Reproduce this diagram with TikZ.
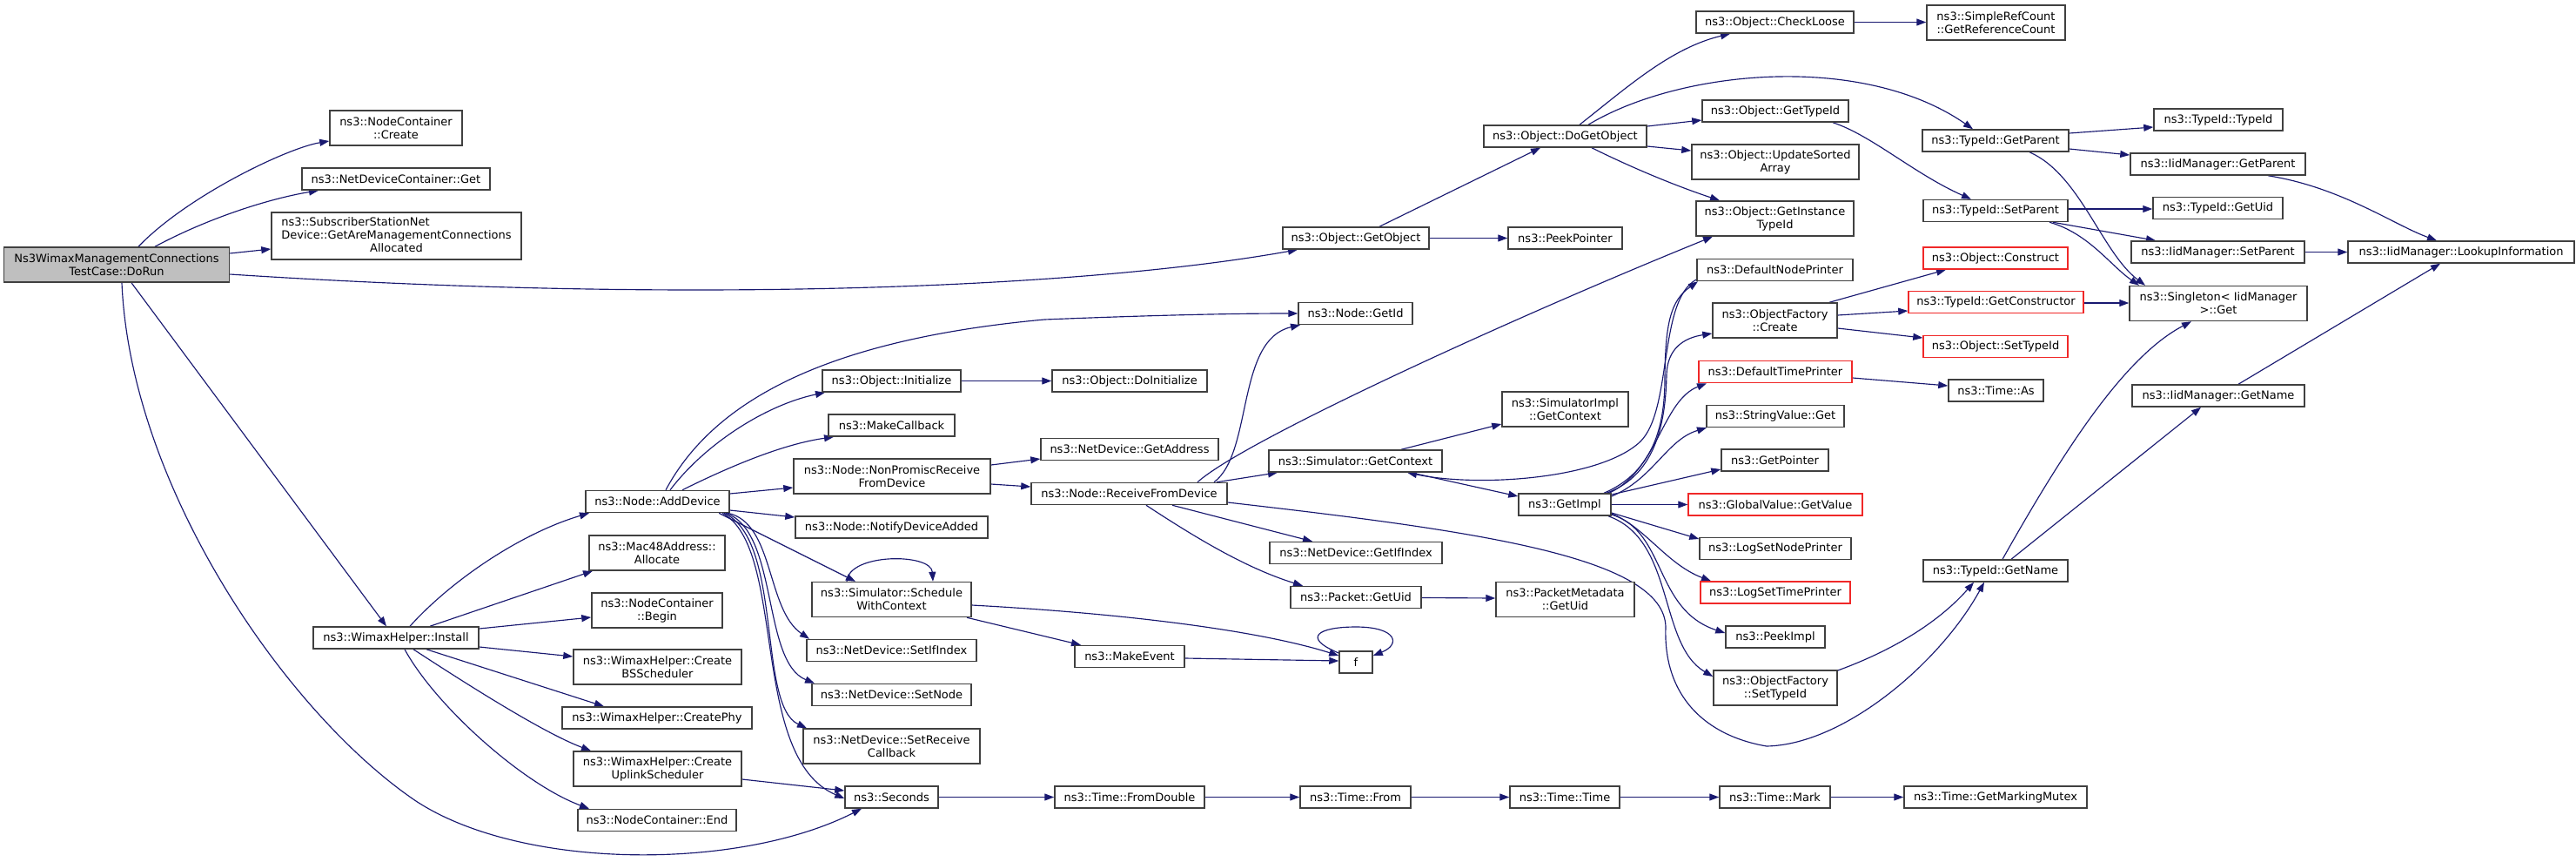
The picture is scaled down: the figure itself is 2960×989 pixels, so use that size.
\documentclass[tikz,border=0pt]{standalone}
\usepackage{fontspec}
\setmainfont{DejaVu Sans}
\usetikzlibrary{arrows.meta,backgrounds}
\definecolor{edgec}{RGB}{25,25,112}
\definecolor{boxc}{RGB}{64,64,64}
\definecolor{redc}{RGB}{240,40,40}
\definecolor{fillc}{RGB}{191,191,191}
\tikzset{
  box/.style={draw=boxc, line width=1.5pt, fill=white, inner sep=0pt, align=center, text=black},
  redbox/.style={box, draw=redc},
  e/.style={draw=edgec, line width=1.15pt, -{Triangle[length=11pt,width=8pt]}},
}
\begin{document}
\begin{tikzpicture}[x=1pt,y=-1pt,font=\fontsize{13}{15}\selectfont]
\useasboundingbox (0,0) rectangle (2960,989);
% column 0
\node[box, fill=fillc, minimum width=259pt, minimum height=40pt] (dorun) at (134,304) {Ns3WimaxManagementConnections\\TestCase::DoRun};
% column 1
\node[box, minimum width=152pt, minimum height=40pt] (ncCreate) at (455,147) {ns3::NodeContainer\\::Create};
\node[box, minimum width=216pt, minimum height=25pt] (ndcGet) at (455,205.5) {ns3::NetDeviceContainer::Get};
\node[box, minimum width=287pt, minimum height=54pt] (ssAlloc) at (455.5,271) {\begin{tabular}{@{}l@{}}ns3::SubscriberStationNet\\Device::GetAreManagementConnections\\\multicolumn{1}{@{}c@{}}{Allocated}\end{tabular}};
\node[box, minimum width=190pt, minimum height=25pt] (install) at (455,732.5) {ns3::WimaxHelper::Install};
% column 2
\node[box, minimum width=165pt, minimum height=25pt] (addDev) at (755.5,576) {ns3::Node::AddDevice};
\node[box, minimum width=156pt, minimum height=40pt] (mac48) at (755,635) {ns3::Mac48Address::\\Allocate};
\node[box, minimum width=150pt, minimum height=40pt] (ncBegin) at (755,701) {ns3::NodeContainer\\::Begin};
\node[box, minimum width=193pt, minimum height=40pt] (createBS) at (755.5,766) {ns3::WimaxHelper::Create\\BSScheduler};
\node[box, minimum width=218pt, minimum height=25pt] (createPhy) at (755,824.5) {ns3::WimaxHelper::CreatePhy};
\node[box, minimum width=193pt, minimum height=40pt] (createUL) at (755.5,883) {ns3::WimaxHelper::Create\\UplinkScheduler};
\node[box, minimum width=182pt, minimum height=25pt] (ncEnd) at (755,942) {ns3::NodeContainer::End};
% column 3
\node[box, minimum width=159pt, minimum height=25pt] (objInit) at (1024.5,437.5) {ns3::Object::Initialize};
\node[box, minimum width=145pt, minimum height=25pt] (makeCb) at (1024.5,488.5) {ns3::MakeCallback};
\node[box, minimum width=226pt, minimum height=40pt] (nonPromisc) at (1025,547) {ns3::Node::NonPromiscReceive\\FromDevice};
\node[box, minimum width=221pt, minimum height=25pt] (notify) at (1024.5,605.5) {ns3::Node::NotifyDeviceAdded};
\node[box, minimum width=183pt, minimum height=40pt] (schedCtx) at (1024.5,688.5) {ns3::Simulator::Schedule\\WithContext};
\node[box, minimum width=195pt, minimum height=25pt] (setIf) at (1024.5,747) {ns3::NetDevice::SetIfIndex};
\node[box, minimum width=183pt, minimum height=25pt] (setNode) at (1024.5,798) {ns3::NetDevice::SetNode};
\node[box, minimum width=203pt, minimum height=40pt] (setRecv) at (1024.5,857) {ns3::NetDevice::SetReceive\\Callback};
\node[box, minimum width=107pt, minimum height=25pt] (seconds) at (1024.5,915.5) {ns3::Seconds};
% column 4
\node[box, minimum width=178pt, minimum height=25pt] (doInit) at (1298,437.5) {ns3::Object::DoInitialize};
\node[box, minimum width=204pt, minimum height=25pt] (getAddr) at (1298,516) {ns3::NetDevice::GetAddress};
\node[box, minimum width=225pt, minimum height=25pt] (recvDev) at (1297.5,567) {ns3::Node::ReceiveFromDevice};
\node[box, minimum width=126pt, minimum height=25pt] (makeEvent) at (1298,754) {ns3::MakeEvent};
\node[box, minimum width=172pt, minimum height=25pt] (fromDouble) at (1298,915.5) {ns3::Time::FromDouble};
% column 5
\node[box, minimum width=168pt, minimum height=25pt] (getObj) at (1558,273.5) {ns3::Object::GetObject};
\node[box, minimum width=131pt, minimum height=25pt] (getId) at (1557.5,360) {ns3::Node::GetId};
\node[box, minimum width=199pt, minimum height=25pt] (simGetCtx) at (1557.5,529.5) {ns3::Simulator::GetContext};
\node[box, minimum width=198pt, minimum height=25pt] (getIfIdx) at (1558,635) {ns3::NetDevice::GetIfIndex};
\node[box, minimum width=150pt, minimum height=25pt] (pktUid) at (1558,686) {ns3::Packet::GetUid};
\node[box, minimum width=38pt, minimum height=25pt] (fnode) at (1558,760.5) {f};
\node[box, minimum width=127pt, minimum height=25pt] (timeFrom) at (1557.5,915.5) {ns3::Time::From};
% column 6
\node[box, minimum width=187pt, minimum height=25pt] (doGetObj) at (1798.5,156.5) {ns3::Object::DoGetObject};
\node[box, minimum width=131pt, minimum height=25pt] (peekPtr) at (1798.5,273.5) {ns3::PeekPointer};
\node[box, minimum width=145pt, minimum height=40pt] (implGetCtx) at (1798.5,470) {ns3::SimulatorImpl\\::GetContext};
\node[box, minimum width=106pt, minimum height=25pt] (getImpl) at (1798,579.5) {ns3::GetImpl};
\node[box, minimum width=159pt, minimum height=40pt] (pmUid) at (1798.5,688.5) {ns3::PacketMetadata\\::GetUid};
\node[box, minimum width=126pt, minimum height=25pt] (timeTime) at (1798,915.5) {ns3::Time::Time};
% column 7
\node[box, minimum width=181pt, minimum height=25pt] (checkLoose) at (2039.5,25.5) {ns3::Object::CheckLoose};
\node[box, minimum width=168pt, minimum height=25pt] (objGetTid) at (2040,127.5) {ns3::Object::GetTypeId};
\node[box, minimum width=192pt, minimum height=40pt] (updSorted) at (2040,186) {ns3::Object::UpdateSorted\\Array};
\node[box, minimum width=181pt, minimum height=40pt] (instTid) at (2039.5,251) {ns3::Object::GetInstance\\TypeId};
\node[box, minimum width=179pt, minimum height=25pt] (defNode) at (2039.5,310) {ns3::DefaultNodePrinter};
\node[box, minimum width=143pt, minimum height=40pt] (ofCreate) at (2039.5,368) {ns3::ObjectFactory\\::Create};
\node[redbox, minimum width=176pt, minimum height=25pt] (defTime) at (2040,427) {ns3::DefaultTimePrinter};
\node[box, minimum width=158pt, minimum height=25pt] (strGet) at (2040,478) {ns3::StringValue::Get};
\node[box, minimum width=123pt, minimum height=25pt] (getPtr) at (2039.5,528.5) {ns3::GetPointer};
\node[redbox, minimum width=200pt, minimum height=25pt] (gvGet) at (2040,579.5) {ns3::GlobalValue::GetValue};
\node[box, minimum width=174pt, minimum height=25pt] (logNode) at (2040,630) {ns3::LogSetNodePrinter};
\node[redbox, minimum width=172pt, minimum height=25pt] (logTime) at (2040,680.5) {ns3::LogSetTimePrinter};
\node[box, minimum width=114pt, minimum height=25pt] (peekImpl) at (2040,731.5) {ns3::PeekImpl};
\node[box, minimum width=142pt, minimum height=40pt] (ofSetTid) at (2040,790) {ns3::ObjectFactory\\::SetTypeId};
\node[box, minimum width=127pt, minimum height=25pt] (timeMark) at (2039.5,915.5) {ns3::Time::Mark};
% column 8
\node[box, minimum width=159pt, minimum height=40pt] (refCount) at (2293.5,26) {ns3::SimpleRefCount\\::GetReferenceCount};
\node[box, minimum width=168pt, minimum height=25pt] (tidGetParent) at (2293,161.5) {ns3::TypeId::GetParent};
\node[box, minimum width=166pt, minimum height=25pt] (tidSetParent) at (2293,242) {ns3::TypeId::SetParent};
\node[redbox, minimum width=166pt, minimum height=25pt] (construct) at (2293,296.5) {ns3::Object::Construct};
\node[redbox, minimum width=201pt, minimum height=25pt] (getCtor) at (2293.5,347) {ns3::TypeId::GetConstructor};
\node[redbox, minimum width=166pt, minimum height=25pt] (objSetTid) at (2293,398) {ns3::Object::SetTypeId};
\node[box, minimum width=109pt, minimum height=25pt] (timeAs) at (2293.5,448.5) {ns3::Time::As};
\node[box, minimum width=166pt, minimum height=25pt] (tidGetName) at (2293,655.5) {ns3::TypeId::GetName};
\node[box, minimum width=210pt, minimum height=25pt] (markMutex) at (2293,915.5) {ns3::Time::GetMarkingMutex};
% column 9
\node[box, minimum width=148pt, minimum height=25pt] (tidTid) at (2549,137.5) {ns3::TypeId::TypeId};
\node[box, minimum width=201pt, minimum height=25pt] (iidGetParent) at (2548.5,188.5) {ns3::IidManager::GetParent};
\node[box, minimum width=149pt, minimum height=25pt] (tidGetUid) at (2548.5,239) {ns3::TypeId::GetUid};
\node[box, minimum width=199pt, minimum height=25pt] (iidSetParent) at (2548.5,289.5) {ns3::IidManager::SetParent};
\node[box, minimum width=204pt, minimum height=40pt] (singleton) at (2549,348.5) {ns3::Singleton< IidManager\\>::Get};
\node[box, minimum width=198pt, minimum height=25pt] (iidGetName) at (2549,454.5) {ns3::IidManager::GetName};
% column 10
\node[box, minimum width=260pt, minimum height=25pt] (lookup) at (2828,289.5) {ns3::IidManager::LookupInformation};

\begin{scope}[on background layer]
% DoRun
\draw[e] (dorun.north -| 159,0) .. controls (215,225) and (330,170) .. (ncCreate.west |- 0,162);
\draw[e] (dorun.north -| 178,0) .. controls (240,250) and (310,228) .. (ndcGet.south -| 366,0);
\draw[e] (dorun.east |- 0,291) -- (ssAlloc.west |- 0,286);
\draw[e] (dorun.east |- 0,315) .. controls (800,350) and (1250,330) .. (getObj.south -| 1491,0);
\draw[e] (dorun.south -| 151,0) -- (install.north -| 444,0);
\draw[e] (dorun.south -| 140,0) .. controls (150,560) and (330,820) .. (478,920) .. controls (600,1000) and (850,1000) .. (seconds.south -| 990,0);
% Install
\draw[e] (install.north -| 471,0) .. controls (520,665) and (600,612) .. (addDev.south -| 677,0);
\draw[e] (install.north -| 494,0) -- (mac48.south -| 681,0);
\draw[e] (install.east |- 0,722) -- (ncBegin.west |- 0,709);
\draw[e] (install.east |- 0,743) -- (createBS.west |- 0,754);
\draw[e] (install.south -| 490,0) -- (createPhy.north -| 694,0);
\draw[e] (install.south -| 475,0) .. controls (520,775) and (620,840) .. (createUL.north -| 679,0);
\draw[e] (install.south -| 465,0) .. controls (500,810) and (600,900) .. (ncEnd.north -| 677,0);
\draw[e] (createUL.east |- 0,895) -- (seconds.west |- 0,908);
% AddDevice
\draw[e] (addDev.north -| 765,0) .. controls (820,460) and (950,390) .. (1200,367) .. controls (1300,363) and (1400,360) .. (getId.west |- 0,360);
\draw[e] (addDev.north -| 770,0) .. controls (810,510) and (880,465) .. (objInit.south -| 948,0);
\draw[e] (addDev.north -| 784,0) .. controls (840,535) and (900,510) .. (makeCb.south -| 958,0);
\draw[e] (addDev.east |- 0,567) -- (nonPromisc.west |- 0,560);
\draw[e] (addDev.east |- 0,586) -- (notify.west |- 0,594);
\draw[e] (addDev.south -| 826,0) -- (schedCtx.north -| 983,0);
\draw[e] (addDev.south -| 836,0) .. controls (890,600) and (880,700) .. (setIf.north -| 930,0);
\draw[e] (addDev.south -| 834,0) .. controls (895,610) and (875,760) .. (setNode.north -| 936,0);
\draw[e] (addDev.south -| 832,0) .. controls (900,620) and (870,810) .. (setRecv.north -| 927,0);
\draw[e] (addDev.south -| 830,0) .. controls (905,630) and (860,870) .. (seconds.west |- 0,917);
% column 3 outgoing
\draw[e] (objInit.east) -- (doInit.west);
\draw[e] (nonPromisc.east |- 0,534) -- (getAddr.west |- 0,527);
\draw[e] (nonPromisc.east |- 0,556) -- (recvDev.west |- 0,559);
\draw[e] (schedCtx.north -| 973,0) .. controls (975,635) and (1070,635) .. (schedCtx.north -| 1072,0);
\draw[e] (schedCtx.south -| 1111,0) -- (makeEvent.north -| 1242,0);
\draw[e] (schedCtx.east |- 0,695) .. controls (1300,705) and (1450,725) .. (fnode.west |- 0,753);
\draw[e] (seconds.east) -- (fromDouble.west);
% ReceiveFromDevice
\draw[e] (recvDev.north -| 1395,0) .. controls (1440,520) and (1420,390) .. (getId.south -| 1494,0);
\draw[e] (recvDev.north -| 1376,0) .. controls (1430,505) and (1750,360) .. (instTid.south -| 1968,0);
\draw[e] (recvDev.north -| 1398,0) -- (simGetCtx.south -| 1468,0);
\draw[e] (recvDev.south -| 1347,0) -- (getIfIdx.north -| 1508,0);
\draw[e] (recvDev.south -| 1317,0) .. controls (1370,615) and (1430,652) .. (pktUid.north -| 1497,0);
\draw[e] (recvDev.east |- 0,577) .. controls (1700,610) and (1912,640) .. (1914,720) .. controls (1911,800) and (1960,845) .. (2030,857) .. controls (2120,855) and (2230,760) .. (tidGetName.south -| 2280,0);
\draw[e] (makeEvent.east |- 0,756) -- (fnode.west |- 0,759);
\draw[e] (fromDouble.east) -- (timeFrom.west);
% column 5
\draw[e] (simGetCtx.north -| 1610,0) -- (implGetCtx.west |- 0,487);
\draw[e] (simGetCtx.south -| 1621,0) -- (getImpl.west |- 0,570);
\draw[e] (fnode.west |- 0,750) .. controls (1495,732) and (1515,720) .. (1558,720) .. controls (1605,720) and (1610,740) .. (fnode.east |- 0,753);
\draw[e] (pktUid.east |- 0,686.5) -- (pmUid.west |- 0,687);
\draw[e] (getObj.north -| 1585,0) -- (doGetObj.south -| 1770,0);
\draw[e] (getObj.east) -- (peekPtr.west);
\draw[e] (timeFrom.east) -- (timeTime.west);
% DefaultNodePrinter back to GetContext
\draw[e] (defNode.west |- 0,321) .. controls (1905,345) and (1922,470) .. (1885,507) .. controls (1840,550) and (1700,560) .. (simGetCtx.south -| 1617,0);
% GetImpl
\draw[e] (getImpl.north -| 1843,0) .. controls (1905,540) and (1912,480) .. (1913,440) .. controls (1913,370) and (1920,345) .. (defNode.south -| 1951,0);
\draw[e] (getImpl.north -| 1846,0) .. controls (1905,545) and (1914,480) .. (1915,430) .. controls (1916,400) and (1935,388) .. (ofCreate.west |- 0,383);
\draw[e] (getImpl.north -| 1849,0) .. controls (1905,540) and (1910,460) .. (defTime.south -| 1961,0);
\draw[e] (getImpl.east |- 0,570) .. controls (1900,550) and (1915,505) .. (strGet.south -| 1961,0);
\draw[e] (getImpl.east |- 0,568) -- (getPtr.west |- 0,539);
\draw[e] (getImpl.east) -- (gvGet.west);
\draw[e] (getImpl.east |- 0,589) -- (logNode.west |- 0,619);
\draw[e] (getImpl.east |- 0,590) .. controls (1890,605) and (1915,648) .. (logTime.north -| 1966,0);
\draw[e] (getImpl.east |- 0,591) .. controls (1915,610) and (1900,700) .. (peekImpl.west |- 0,727);
\draw[e] (getImpl.south -| 1848,0) .. controls (1925,620) and (1905,740) .. (ofSetTid.west |- 0,777);
\draw[e] (timeTime.east) -- (timeMark.west);
% DoGetObject
\draw[e] (doGetObj.north -| 1815,0) .. controls (1870,100) and (1920,55) .. (checkLoose.south -| 1988,0);
\draw[e] (doGetObj.north -| 1825,0) .. controls (1930,80) and (2140,60) .. (tidGetParent.north -| 2267,0);
\draw[e] (doGetObj.east |- 0,145) -- (objGetTid.west |- 0,138);
\draw[e] (doGetObj.east |- 0,168) -- (updSorted.west |- 0,173);
\draw[e] (doGetObj.south -| 1829,0) .. controls (1880,195) and (1930,215) .. (instTid.north -| 1976,0);
% column 7 outgoing
\draw[e] (checkLoose.east) -- (refCount.west |- 0,25.5);
\draw[e] (objGetTid.south -| 2106,0) .. controls (2150,155) and (2200,200) .. (tidSetParent.north -| 2265,0);
\draw[e] (ofCreate.north -| 2102,0) -- (construct.south -| 2236,0);
\draw[e] (ofCreate.east |- 0,362) -- (getCtor.west |- 0,357);
\draw[e] (ofCreate.east |- 0,377) -- (objSetTid.west |- 0,388);
\draw[e] (defTime.east |- 0,434) -- (timeAs.west |- 0,443);
\draw[e] (ofSetTid.east |- 0,770) .. controls (2180,745) and (2230,712) .. (tidGetName.south -| 2268,0);
\draw[e] (timeMark.east) -- (markMutex.west);
% column 8 outgoing
\draw[e] (tidGetParent.east |- 0,153) -- (tidTid.west |- 0,146);
\draw[e] (tidGetParent.east |- 0,171) -- (iidGetParent.west |- 0,178);
\draw[e] (tidGetParent.south -| 2332,0) .. controls (2390,200) and (2415,290) .. (singleton.north -| 2465,0);
\draw[e] (tidSetParent.east |- 0,240) -- (tidGetUid.west |- 0,240);
\draw[e] (tidSetParent.south -| 2359,0) -- (iidSetParent.north -| 2477,0);
\draw[e] (tidSetParent.south -| 2355,0) .. controls (2400,268) and (2425,305) .. (singleton.north -| 2458,0);
\draw[e] (getCtor.east |- 0,348) -- (singleton.west |- 0,348);
\draw[e] (tidGetName.north -| 2301,0) .. controls (2370,520) and (2440,410) .. (singleton.south -| 2518,0);
\draw[e] (tidGetName.north -| 2311,0) -- (iidGetName.south -| 2529,0);
% column 9 outgoing
\draw[e] (iidGetParent.south -| 2606,0) .. controls (2690,215) and (2750,258) .. (lookup.north -| 2800,0);
\draw[e] (iidSetParent.east) -- (lookup.west);
\draw[e] (iidGetName.north -| 2572,0) -- (lookup.south -| 2804,0);
\end{scope}
\end{tikzpicture}
\end{document}
